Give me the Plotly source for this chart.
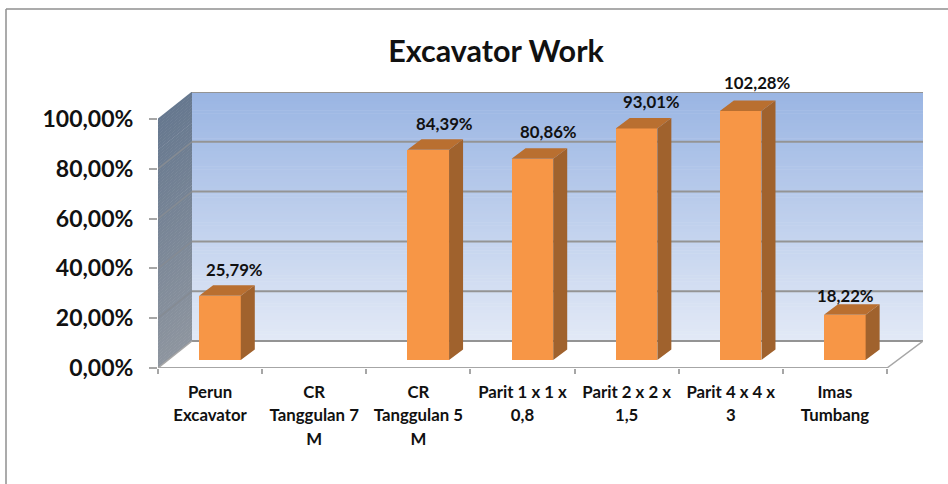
import plotly.graph_objects as go

categories = ["Perun<br>Excavator", "CR<br>Tanggulan 7<br>M", "CR<br>Tanggulan 5<br>M",
              "Parit 1 x 1 x<br>0,8", "Parit 2 x 2 x<br>1,5", "Parit 4 x 4 x<br>3", "Imas<br>Tumbang"]
values = [25.79, None, 84.39, 80.86, 93.01, 102.28, 18.22]
y_ticks = [0, 20, 40, 60, 80, 100]
y_labels = ["0,00%", "20,00%", "40,00%", "60,00%", "80,00%", "100,00%"]
label_dx = [15, 0, 16, 16, 15, 17, 1]
label_dy = [-26, 0, -26, -27, -27, -29, -19]

FONT = "Lato, Carlito, Calibri, sans-serif"
W, H = 948, 484
L, R, T, B = 158, 923, 92, 368
PXX = 104.14
PXY = 2.49
XMAX = (R - L) / PXX
YMAX = (B - T) / PXY
DX, DY = 34 / PXX, 27 / PXY          # wall depth
BASE = 8 / PXY                       # bars stand in the middle of the floor
BW, BSHIFT = 0.4, 0.095
BDX, BDY = 14 / PXX, 10.5 / PXY      # bar depth
YCAP = 100


def mix(a, b, t):
    return "rgb(%d,%d,%d)" % tuple(round(a[i] + (b[i] - a[i]) * t) for i in range(3))


shapes = []
# side wall and back wall gradient, drawn in bands
n = 80
for k in range(n):
    v0, v1 = YCAP * k / n, YCAP * (k + 1) / n + 0.2
    t = k / (n - 1)
    shapes.append(dict(type="rect", xref="x", yref="y", layer="below",
                       x0=DX, x1=XMAX, y0=v0 + DY, y1=min(v1 + DY, YMAX),
                       fillcolor=mix((226, 233, 246), (154, 181, 227), t), line_width=0))
    shapes.append(dict(type="path", xref="x", yref="y", layer="below",
                       path=f"M0,{v0} L{DX},{v0 + DY} L{DX},{v1 + DY} L0,{v1} Z",
                       fillcolor=mix((142, 149, 159), (102, 120, 143), t), line_width=0))
GRID = "#949494"
for v in y_ticks:
    shapes.append(dict(type="line", xref="x", yref="y", layer="below", x0=DX, x1=XMAX,
                       y0=v + DY, y1=v + DY, line=dict(color=GRID, width=2)))
    if 0 < v < 100:
        shapes.append(dict(type="line", xref="x", yref="y", layer="below", x0=0, x1=DX,
                           y0=v, y1=v + DY, line=dict(color="#858B93", width=1.5)))
# floor edges
EDGE = "#A6A6A6"
shapes += [
    dict(type="line", xref="x", yref="y", layer="below", x0=0, x1=7, y0=0, y1=0, line=dict(color=EDGE, width=2)),
    dict(type="line", xref="x", yref="y", layer="below", x0=0, x1=DX, y0=0, y1=DY, line=dict(color=EDGE, width=1.5)),
    dict(type="line", xref="x", yref="y", layer="below", x0=7, x1=XMAX, y0=0, y1=DY, line=dict(color=EDGE, width=1.5)),
]
# outer chart frame
pxp = lambda px: (px - L) / (R - L)
pyp = lambda py: (B - py) / (B - T)
FRAME = "#8F8F8F"
shapes += [
    dict(type="line", xref="paper", yref="paper", x0=pxp(6), x1=pxp(6), y0=pyp(9), y1=pyp(H), line=dict(color=FRAME, width=1.5)),
    dict(type="line", xref="paper", yref="paper", x0=pxp(6), x1=pxp(W), y0=pyp(9), y1=pyp(9), line=dict(color=FRAME, width=1.5)),
]

idx = [i for i, v in enumerate(values) if v is not None]
bar_x = [i + 0.5 for i in idx]
bar_top = [min(values[i], YCAP) for i in idx]

fig = go.Figure()
fig.add_bar(x=bar_x, y=bar_top, base=BASE, width=BW, offset=BSHIFT - BW / 2,
            marker=dict(color="#F79646", line_width=0), showlegend=False, hoverinfo="skip")

side_x, side_y, top_x, top_y = [], [], [], []
for xc, h in zip(bar_x, bar_top):
    xr = xc + BSHIFT + BW / 2
    xl = xc + BSHIFT - BW / 2
    yt = BASE + h
    side_x += [xr, xr + BDX, xr + BDX, xr, xr, None]
    side_y += [BASE, BASE + BDY, yt + BDY, yt, BASE, None]
    top_x += [xl, xl + BDX, xr + BDX, xr, xl, None]
    top_y += [yt, yt + BDY, yt + BDY, yt, yt, None]
fig.add_scatter(x=side_x, y=side_y, mode="lines", fill="toself", fillcolor="#A0622D",
                line=dict(width=0, color="#A0622D"), showlegend=False, hoverinfo="skip")
fig.add_scatter(x=top_x, y=top_y, mode="lines", fill="toself", fillcolor="#B96F30",
                line=dict(width=0, color="#B96F30"), showlegend=False, hoverinfo="skip")

for i in idx:
    v = values[i]
    fig.add_annotation(x=i + 0.5 + BSHIFT, y=BASE + min(v, YCAP), text=f"<b>{v:.2f}%</b>".replace(".", ","),
                       showarrow=False, xshift=label_dx[i], yshift=-label_dy[i],
                       font=dict(family=FONT, size=16.8, color="#111"), xanchor="center", yanchor="middle")

span = '<span style="font-size:16.8px"><b>%s</b></span>'
tick_text = ["<br>".join(span % part for part in c.split("<br>")) for c in categories]

fig.update_layout(
    width=W, height=H, margin=dict(l=L, r=W - R, t=T, b=H - B),
    paper_bgcolor="white", plot_bgcolor="white", bargap=0, showlegend=False,
    font=dict(family=FONT, color="#111"),
    title=dict(text="<b>Excavator Work</b>", x=496 / W, y=1 - 51 / H, xanchor="center", yanchor="middle",
               xref="container", yref="container", font=dict(family=FONT, size=30.5, color="#111")),
    shapes=shapes,
    xaxis=dict(range=[0, XMAX], showgrid=False, zeroline=False, showline=False,
               tickmode="array", tickvals=[i + 0.5 for i in range(7)], ticktext=tick_text,
               ticks="", tickangle=0, tickfont=dict(family=FONT, size=18, color="#111"),
               ticklabelstandoff=11,
               minor=dict(tickmode="array", tickvals=list(range(8)), ticks="outside", ticklen=5,
                          tickcolor=EDGE, tickwidth=1.5, showgrid=False)),
    yaxis=dict(range=[0, YMAX], showgrid=False, zeroline=False, showline=False,
               tickmode="array", tickvals=y_ticks, ticktext=[f"<b>{s}</b>" for s in y_labels],
               ticks="outside", ticklen=8, tickcolor=EDGE, tickwidth=1.5,
               ticklabelstandoff=11, tickfont=dict(family=FONT, size=23, color="#111")),
)
fig.write_html("out.html", config=dict(displayModeBar=False),
               post_script="document.body.style.margin='0';")
